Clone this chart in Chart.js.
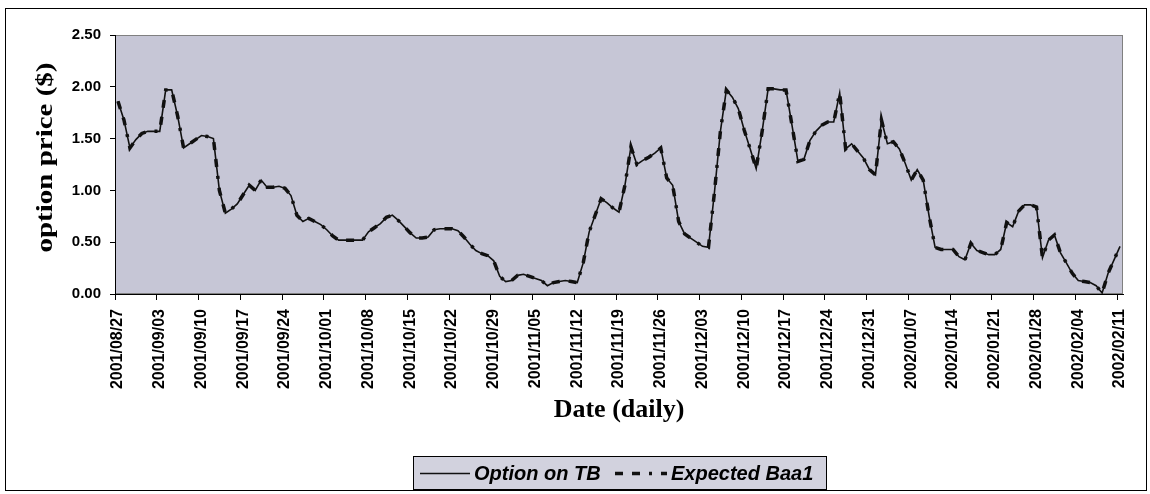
<!DOCTYPE html>
<html><head><meta charset="utf-8">
<script src="https://cdn.jsdelivr.net/npm/chart.js@4"></script>
<style>html,body{margin:0;padding:0;background:#fff;}#wrap{position:relative;width:1150px;height:494px;}</style>
</head><body><div id="wrap"><canvas id="c" width="1150" height="494"></canvas></div>
<script>
// ---- data ----
const startDate = '2001/08/27';
const dayCount = 169; // daily categories 2001/08/27 .. 2002/02/11
const tickLabels = ['2001/08/27','2001/09/03','2001/09/10','2001/09/17','2001/09/24','2001/10/01','2001/10/08','2001/10/15','2001/10/22','2001/10/29','2001/11/05','2001/11/12','2001/11/19','2001/11/26','2001/12/03','2001/12/10','2001/12/17','2001/12/24','2001/12/31','2002/01/07','2002/01/14','2002/01/21','2002/01/28','2002/02/04','2002/02/11'];
const yTicks = [0, 0.5, 1.0, 1.5, 2.0, 2.5];
const xTitle = 'Date (daily)';
const yTitle = 'option price ($)';
const optionTB = [
1.86,1.68,1.41,1.49,1.55,1.57,1.57,
1.57,1.97,1.97,1.72,1.41,1.45,1.49,
1.53,1.52,1.50,1.00,0.78,0.82,0.87,
0.96,1.05,1.00,1.10,1.03,1.03,1.04,
1.02,0.95,0.76,0.70,0.73,0.70,0.67,
0.62,0.56,0.52,0.52,0.52,0.52,0.52,
0.60,0.64,0.68,0.74,0.76,0.71,0.65,
0.59,0.54,0.54,0.55,0.62,0.63,0.63,
0.63,0.61,0.55,0.48,0.42,0.39,0.37,
0.32,0.17,0.12,0.13,0.18,0.19,0.17,
0.15,0.13,0.08,0.11,0.12,0.13,0.12,
0.11,0.30,0.60,0.76,0.92,0.88,0.83,
0.79,1.05,1.42,1.25,1.29,1.32,1.36,
1.41,1.12,1.05,0.70,0.58,0.54,0.50,
0.46,0.45,0.98,1.57,1.97,1.90,1.79,
1.58,1.40,1.21,1.57,1.98,1.98,1.97,
1.97,1.63,1.28,1.30,1.48,1.57,1.63,
1.66,1.66,1.94,1.40,1.45,1.38,1.31,
1.20,1.15,1.68,1.45,1.47,1.40,1.26,
1.10,1.20,1.10,0.75,0.45,0.43,0.43,
0.43,0.36,0.33,0.49,0.42,0.40,0.38,
0.38,0.43,0.69,0.65,0.80,0.86,0.86,
0.84,0.35,0.52,0.57,0.40,0.30,0.20,
0.13,0.12,0.11,0.08,0.01,0.20,0.33,
0.46];
const expectedBaa1 = [
1.86,1.68,1.41,1.49,1.55,1.57,1.57,
1.57,1.97,1.97,1.72,1.41,1.45,1.49,
1.53,1.52,1.50,1.00,0.78,0.82,0.87,
0.96,1.05,1.00,1.10,1.03,1.03,1.04,
1.02,0.95,0.76,0.70,0.73,0.70,0.67,
0.62,0.56,0.52,0.52,0.52,0.52,0.52,
0.60,0.64,0.68,0.74,0.76,0.71,0.65,
0.59,0.54,0.54,0.55,0.62,0.63,0.63,
0.63,0.61,0.55,0.48,0.42,0.39,0.37,
0.32,0.17,0.12,0.13,0.18,0.19,0.17,
0.15,0.13,0.08,0.11,0.12,0.13,0.12,
0.11,0.30,0.60,0.76,0.92,0.88,0.83,
0.79,1.05,1.42,1.25,1.29,1.32,1.36,
1.41,1.12,1.05,0.70,0.58,0.54,0.50,
0.46,0.45,0.98,1.57,1.97,1.90,1.79,
1.58,1.40,1.21,1.57,1.98,1.98,1.97,
1.97,1.63,1.28,1.30,1.48,1.57,1.63,
1.66,1.66,1.94,1.40,1.45,1.38,1.31,
1.20,1.15,1.68,1.45,1.47,1.40,1.26,
1.10,1.20,1.10,0.75,0.45,0.43,0.43,
0.43,0.36,0.33,0.49,0.42,0.40,0.38,
0.38,0.43,0.69,0.65,0.80,0.86,0.86,
0.84,0.35,0.52,0.57,0.40,0.30,0.20,
0.13,0.12,0.11,0.08,0.01,0.20,0.33,
0.46];

// ---- categories (consecutive calendar days) ----
function pad(n){return (n<10?'0':'')+n;}
const categories = [];
(function(){
  const p = startDate.split('/').map(Number);
  const d0 = Date.UTC(p[0], p[1]-1, p[2]);
  for (let i=0;i<dayCount;i++){
    const d = new Date(d0 + i*86400000);
    categories.push(d.getUTCFullYear()+'/'+pad(d.getUTCMonth()+1)+'/'+pad(d.getUTCDate()));
  }
})();

const SANS = "'Liberation Sans', Arial, sans-serif";
const SERIF = "'Liberation Serif', 'Times New Roman', serif";

const plotBg = {
  id:'plotBg',
  beforeDraw(chart){
    const {ctx, chartArea:a} = chart;
    ctx.save();
    ctx.fillStyle='#ffffff';
    ctx.fillRect(0,0,chart.width,chart.height);
    ctx.fillStyle='#c6c6d6';
    ctx.fillRect(a.left,a.top,a.right-a.left,a.bottom-a.top);
    ctx.strokeStyle='#808080';
    ctx.lineWidth=1;
    ctx.strokeRect(a.left+0.5,a.top+0.5,a.right-a.left-1,a.bottom-a.top-1);
    ctx.restore();
  }
};

const frameLegend = {
  id:'frameLegend',
  afterDraw(chart){
    const ctx = chart.ctx;
    const a = chart.chartArea;
    ctx.save();
    // outer frame
    ctx.strokeStyle='#000'; ctx.lineWidth=1;
    ctx.strokeRect(5.5,8.5,1141,482);
    // y axis title (stretched along its length like the reference)
    ctx.save();
    ctx.font = "bold 24px "+SERIF;
    const tw = ctx.measureText(yTitle).width;
    ctx.translate(46, (a.top+a.bottom)/2 - 7);
    ctx.rotate(-Math.PI/2);
    ctx.scale(190/tw, 1);
    ctx.textAlign='center'; ctx.textBaseline='middle';
    ctx.fillStyle='#000';
    ctx.fillText(yTitle, 0, 0);
    ctx.restore();
    // legend box
    const bx=413, by=456, bw=414, bh=34;
    ctx.fillStyle='#d2d2de';
    ctx.fillRect(bx,by,bw,bh);
    ctx.strokeStyle='#000'; ctx.lineWidth=1;
    ctx.strokeRect(bx+0.5,by+0.5,bw-1,bh-1);
    const cy = by+bh/2;
    ctx.font = "italic bold 20px "+SANS;
    ctx.textBaseline='middle';
    ctx.fillStyle='#000';
    const sampleX = [420, 615], sampleW = [50, 52];
    chart.data.datasets.forEach((ds,i)=>{
      const x = sampleX[i];
      ctx.beginPath();
      ctx.lineWidth = ds.borderWidth;
      ctx.strokeStyle = ds.borderColor;
      ctx.setLineDash(ds.borderDash || []);
      ctx.moveTo(x, cy+0.5); ctx.lineTo(x+sampleW[i], cy+0.5);
      ctx.stroke();
      ctx.setLineDash([]);
      ctx.fillText(ds.label, x+sampleW[i]+4, cy+1);
    });
    ctx.restore();
  }
};

new Chart(document.getElementById('c'), {
  type:'line',
  data:{
    labels: categories,
    datasets:[
      {label:'Option on TB', data:optionTB, borderColor:'#111', borderWidth:1.6, pointRadius:0, tension:0, fill:false},
      {label:'Expected Baa1', data:expectedBaa1, borderColor:'#111', borderWidth:3.5, borderDash:[8,9,8,9,3,9], pointRadius:0, tension:0, fill:false}
    ]
  },
  options:{
    responsive:false, animation:false, devicePixelRatio:1,
    layout:{padding:{left:6, top:35, right:27, bottom:43}},
    plugins:{legend:{display:false}, tooltip:{enabled:false}},
    scales:{
      x:{
        type:'category', offset:true,
        grid:{offset:true, drawOnChartArea:false, tickLength:6, color:(c)=> (c.index%7===0 ? '#000' : 'rgba(0,0,0,0)')},
        border:{color:'#000', width:1},
        ticks:{autoSkip:false, maxRotation:90, minRotation:90, padding:9, color:'#000',
          font:{family:SANS, size:16, weight:'bold'},
          callback:function(v){const l=this.getLabelForValue(v); return tickLabels.includes(l)?l:'';}},
        title:{display:true, text:xTitle, color:'#000', font:{family:SERIF, size:26, weight:'bold'}, padding:{top:0,bottom:25}},
        afterFit:(s)=>{s.height=157;}
      },
      y:{
        min:0, max:2.5,
        afterBuildTicks:(s)=>{s.ticks = yTicks.map(v=>({value:v}));},
        grid:{drawOnChartArea:false, tickLength:5, color:'#000'},
        border:{color:'#000', width:1},
        ticks:{padding:9, color:'#000', font:{family:SANS, size:15, weight:'bold'}, callback:(v)=>Number(v).toFixed(2)},
        title:{display:false},
        afterFit:(s)=>{s.width=109;}
      }
    }
  },
  plugins:[plotBg, frameLegend]
});
</script></body></html>
